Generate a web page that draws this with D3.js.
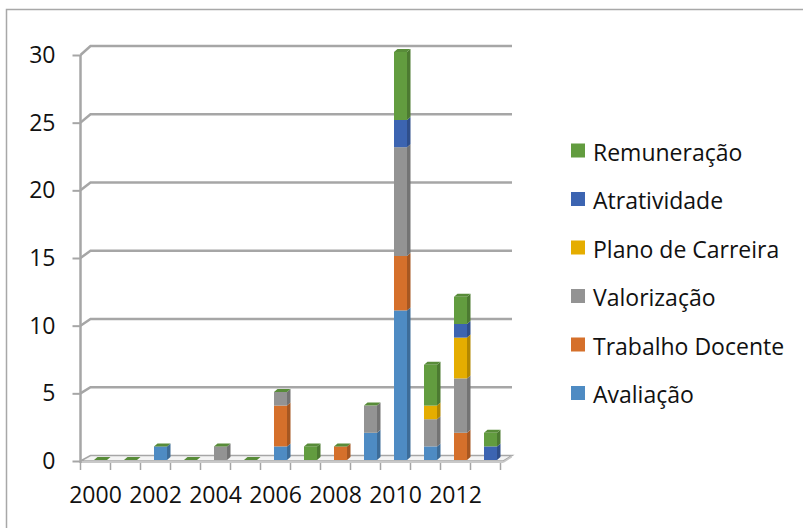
<!DOCTYPE html>
<html><head><meta charset="utf-8">
<script src="https://cdn.jsdelivr.net/npm/d3@7"></script>
<style>
html,body{margin:0;padding:0;background:#fff;}
svg{display:block;}
text{font-family:"Open Sans","Noto Sans",sans-serif;fill:#111;}
</style></head>
<body><svg id="c" width="803" height="528"></svg>
<script>
const years = ["2000","2001","2002","2003","2004","2005","2006","2007","2008","2009","2010","2011","2012","2013"];
const yearLabels = ["2000","2002","2004","2006","2008","2010","2012"];
const yTicks = [0,5,10,15,20,25,30];
const seriesNames = ["Avaliação","Trabalho Docente","Valorização","Plano de Carreira","Atratividade","Remuneração"];
const avaliacao    = [0,0,1,0,0,0,1,0,0,2,11,1,0,0];
const trabalho     = [0,0,0,0,0,0,3,0,1,0,4,0,2,0];
const valorizacao  = [0,0,0,0,1,0,1,0,0,2,8,2,4,0];
const plano        = [0,0,0,0,0,0,0,0,0,0,0,1,3,0];
const atratividade = [0,0,0,0,0,0,0,0,0,0,2,0,1,1];
const remuneracao  = [0,0,0,0,0,0,0,1,0,0,5,3,2,1];
const colors = ["#4e8bc3","#d5702b","#939393","#e5ad00","#3c64b1","#629c3f"];

const seriesValues = [avaliacao,trabalho,valorizacao,plano,atratividade,remuneracao];
const table = years.map((y,i)=>{const o={year:y}; seriesNames.forEach((s,k)=>o[s]=seriesValues[k][i]); return o;});
const stacked = d3.stack().keys(seriesNames)(table);

const svg = d3.select("#c");
// outer border (partially cropped)
svg.append("rect").attr("x",6.5).attr("y",9.5).attr("width",900).attr("height",700)
  .attr("fill","#fff").attr("stroke","#a8a8a8").attr("stroke-width",1.5);

const x = d3.scaleBand().domain(years).range([80.5,500.5]).padding(0);
const yFront = d3.scaleLinear().domain([0,30]).range([461,55]);
const yBack  = d3.scaleLinear().domain([0,30]).range([455.5,46]);
const yBar   = d3.scaleLinear().domain([0,30]).range([460,52]);
const dX = 10, backRight = 512;
const gridCol = "#a6a6a6";

// floor
const x0 = x.range()[0], x1 = x.range()[1];
svg.append("path")
  .attr("d",`M${x0},${yFront(0)}L${x0+dX},${yBack(0)}L${backRight},${yBack(0)}L${x1+3},${yFront(0)}Z`)
  .attr("fill","#f4f4f4").attr("stroke",gridCol).attr("stroke-width",1.5);
svg.append("rect").attr("x",x0).attr("y",yFront(0)).attr("width",x1+3-x0).attr("height",2)
  .attr("fill","#c8c8c8");
svg.append("path").attr("d",`M${x1+3},${yFront(0)}l0,2L${backRight},${yBack(0)+2}L${backRight},${yBack(0)}Z`)
  .attr("fill","#c8c8c8");

// gridlines (wall lines)
svg.append("g").selectAll("path").data(yTicks.filter(v=>v>0)).join("path")
  .attr("d",v=>`M${x0},${yFront(v)}L${x0+dX},${yBack(v)}L${backRight},${yBack(v)}`)
  .attr("fill","none").attr("stroke",gridCol).attr("stroke-width",2.5);

// left wall front edge
svg.append("line").attr("x1",x0).attr("x2",x0).attr("y1",yFront(30)).attr("y2",yFront(0)+2)
  .attr("stroke",gridCol).attr("stroke-width",2.5);

// y axis ticks + labels
const yAxis = svg.append("g").attr("transform",`translate(${x0},0)`)
  .call(d3.axisLeft(yFront).tickValues(yTicks).tickSize(8).tickPadding(17));
yAxis.select(".domain").remove();
yAxis.selectAll(".tick line").attr("stroke",gridCol).attr("stroke-width",2);
yAxis.selectAll(".tick text").attr("font-size",23).attr("fill","#111")
  .attr("font-family",'"Open Sans","Noto Sans",sans-serif');

// x boundary ticks
const bounds = years.map(y=>x(y)).concat([x(years[years.length-1])+x.bandwidth()]);
svg.append("g").selectAll("line").data(bounds).join("line")
  .attr("x1",d=>d).attr("x2",d=>d).attr("y1",yFront(0)+2).attr("y2",yFront(0)+9)
  .attr("stroke",gridCol).attr("stroke-width",1.5);

// x labels
svg.append("g").selectAll("text").data(yearLabels).join("text")
  .attr("x",d=>x(d)+x.bandwidth()/2).attr("y",494)
  .attr("text-anchor","middle").attr("dominant-baseline","central")
  .attr("font-size",23).text(d=>d);

// bars
const bw = 13, off = 13.5, ddx = 3.5, ddy = 3;
const gBars = svg.append("g");
years.forEach((yr,i)=>{
  const bx = x(yr)+off;
  stacked.forEach((s,k)=>{
    const d = s[i];
    if (d[1]-d[0] <= 0) return;
    const yt = yBar(d[1]), yb = yBar(d[0]);
    const c = d3.color(colors[k]);
    gBars.append("rect").attr("x",bx).attr("y",yt).attr("width",bw).attr("height",yb-yt).attr("fill",c);
    gBars.append("path")
      .attr("d",`M${bx+bw},${yt}L${bx+bw+ddx},${yt-ddy}L${bx+bw+ddx},${yb-ddy}L${bx+bw},${yb}Z`)
      .attr("fill",c.darker(0.7));
  });
  const total = stacked[stacked.length-1][i][1];
  const yt = yBar(total);
  const top = d3.color(colors[colors.length-1]);
  gBars.append("path")
    .attr("d",`M${bx},${yt}L${bx+ddx},${yt-ddy}L${bx+bw+ddx},${yt-ddy}L${bx+bw},${yt}Z`)
    .attr("fill",top.darker(0.3));
});

// legend
const legY = [150.5,199,247.5,296,344.5,393];
const legOrder = seriesNames.slice().reverse();
const lg = svg.append("g");
legOrder.forEach((name,j)=>{
  const k = seriesNames.indexOf(name);
  lg.append("rect").attr("x",571).attr("y",legY[j]-7).attr("width",14).attr("height",14).attr("fill",colors[k]);
  lg.append("text").attr("x",593).attr("y",legY[j]+1).attr("dominant-baseline","central")
    .attr("font-size",23).text(name);
});
</script></body></html>
